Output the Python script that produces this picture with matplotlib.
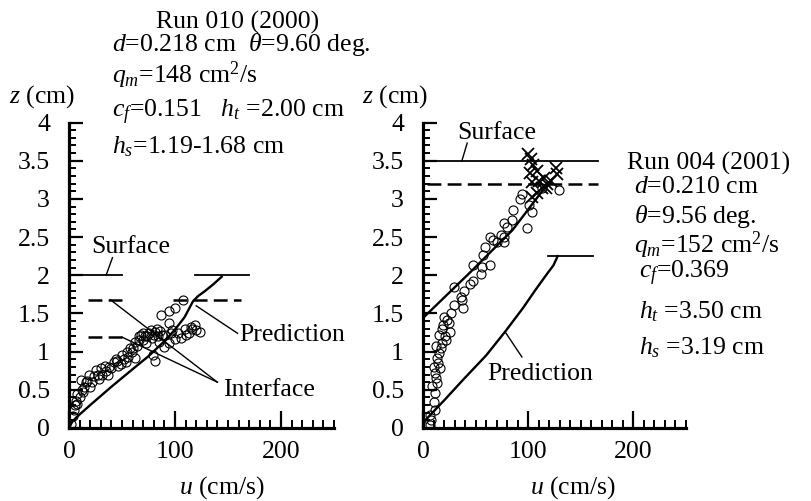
import matplotlib
matplotlib.use("Agg")
import matplotlib.pyplot as plt
import numpy as np

plt.rcParams['font.family'] = ['Liberation Serif', 'DejaVu Serif']
plt.rcParams['mathtext.fontset'] = 'custom'
plt.rcParams['mathtext.rm'] = 'Liberation Serif'
plt.rcParams['mathtext.it'] = 'Liberation Serif:italic'
plt.rcParams['lines.scale_dashes'] = False
FS = 18.5

# ---------------- data: Run 010 (2000) ----------------
left_u = [87, 100, 94, 94, 108, 119, 124, 113, 106, 100, 94, 90, 81,
          68, 75, 66, 73, 59, 62, 78, 81,
          49, 42, 34, 31, 25, 19, 11, 14, 20, 10, 8, 5, 4, 13, 37, 28, 46, 54,
          55, 60, 64, 70, 72, 84, 86, 88, 96, 110, 116, 2, 6, 8, 16, 22, 24,
          30, 38, 44, 50, 52, 56, 85, 79,
          58, 62, 66, 70, 74, 77, 80, 83, 91, 97, 103, 109, 115, 120,
          35, 40, 45, 27, 17, 12, 7]
left_z = [1.48, 1.57, 1.53, 1.37, 1.68, 1.35, 1.26, 1.25, 1.18, 1.16, 1.11, 1.06, 0.88,
          1.22, 1.24, 1.15, 1.11, 0.99, 0.92, 1.18, 1.26,
          0.84, 0.86, 0.81, 0.70, 0.76, 0.69, 0.63, 0.54, 0.54, 0.40, 0.31, 0.23, 0.16, 0.47, 0.70, 0.64, 0.81, 0.86,
          1.00, 1.05, 1.08, 1.15, 1.20, 1.20, 1.27, 1.22, 1.24, 1.22, 1.30, 0.05, 0.30, 0.45, 0.60, 0.60, 0.68,
          0.78, 0.80, 0.90, 0.95, 0.90, 0.93, 1.12, 0.95,
          1.05, 1.12, 1.20, 1.25, 1.20, 1.28, 1.22, 1.30, 1.22, 1.28, 1.25, 1.30, 1.32, 1.28,
          0.75, 0.78, 0.88, 0.70, 0.62, 0.50, 0.35]
left_pred_u = [0, 3, 7, 20, 40, 60, 75, 91, 100, 109, 117, 122, 128, 136, 144]
left_pred_z = [0.0, 0.08, 0.14, 0.30, 0.54, 0.77, 0.94, 1.15, 1.29, 1.45, 1.66, 1.73, 1.79, 1.88, 1.98]
left_surface = 2.00
left_interfaces = [1.68, 1.19]

# ---------------- data: Run 004 (2001) ----------------
right_u = [13, 11, 14, 15, 18, 21, 26, 18, 23, 27, 11, 10, 7, 11, 7, 15, 19,
           29, 37, 39, 36, 45, 48, 55, 56, 64, 48, 57, 70, 77, 77, 38, 29,
           59, 67, 74, 80, 85, 86, 94, 92, 99, 104, 101, 129, 113, 77, 64,
           8, 9, 12, 16, 13, 17, 22, 12, 20, 25, 10]
right_z = [0.59, 0.72, 0.85, 0.98, 1.11, 1.21, 1.26, 1.30, 1.41, 1.50, 0.46, 0.34, 0.17, 0.24, 0.04, 1.22, 1.35,
           1.61, 1.68, 1.79, 1.72, 1.88, 1.93, 2.02, 2.11, 2.13, 2.14, 2.27, 2.43, 2.50, 2.43, 1.57, 1.84,
           2.37, 2.46, 2.53, 2.63, 2.72, 2.86, 3.07, 3.00, 2.62, 2.83, 2.92, 3.11, 3.14, 2.69, 2.50,
           0.10, 0.55, 0.65, 0.78, 0.92, 1.05, 1.15, 1.08, 1.45, 1.38, 0.80]
right_x_u = [100, 103, 105, 102, 108, 104, 110, 126, 127, 122, 118, 113, 108, 115, 104, 117]
right_x_z = [3.59, 3.52, 3.45, 3.34, 3.36, 3.22, 3.24, 3.41, 3.32, 3.24, 3.19, 3.14, 3.08, 3.27, 3.02, 3.14]
right_fit_u = [0, 45, 85, 117]
right_fit_z = [1.44, 2.04, 2.59, 3.17]
right_pred_u = [0, 2, 20, 38, 60, 78, 95, 107, 118, 124, 128]
right_pred_z = [0.0, 0.10, 0.36, 0.63, 0.95, 1.26, 1.57, 1.81, 2.02, 2.13, 2.25]
right_surface = 3.50
right_interface = 3.19

y_ticks = [0, 0.5, 1, 1.5, 2, 2.5, 3, 3.5, 4]
y_ticklabels = ['0', '0.5', '1', '1.5', '2', '2.5', '3', '3.5', '4']
x_ticks = [0, 100, 200]
x_ticklabels = ['0', '100', '200']

W, H = 811, 501
fig = plt.figure(figsize=(W / 100, H / 100), dpi=100)


def px(x, y):
    return x / W, 1 - y / H


def style_axes(ax, wpx, hpx):
    ax.set_xlim(0, 250)
    ax.set_ylim(0, 4)
    for s in ['top', 'right']:
        ax.spines[s].set_visible(False)
    for s in ['left', 'bottom']:
        ax.spines[s].set_linewidth(2.3)
        ax.spines[s].set_capstyle('projecting')
    ax.set_yticks(y_ticks)
    ax.set_yticklabels(y_ticklabels)
    ax.set_xticks(x_ticks)
    ax.set_xticklabels(x_ticklabels)
    ax.tick_params(axis='both', which='both', length=0, labelsize=FS)
    ax.tick_params(axis='y', pad=13.7)
    ax.tick_params(axis='x', pad=9.5)
    ax.set_facecolor('none')
    # inward tick marks drawn with blended axis transforms
    xt = ax.get_xaxis_transform()
    yt = ax.get_yaxis_transform()
    minor_x = np.arange(0, 251, 10)
    minor_y = np.arange(0, 4.01, 0.1)
    ax.vlines(minor_x, 0, 8 / hpx, transform=xt, color='black', lw=1.4, clip_on=False)
    ax.vlines(x_ticks, 0, 17 / hpx, transform=xt, color='black', lw=1.6, clip_on=False)
    ax.hlines(minor_y, 0, 7 / wpx, transform=yt, color='black', lw=1.4, clip_on=False)
    ax.hlines(y_ticks, 0, 14 / wpx, transform=yt, color='black', lw=1.6, clip_on=False)


DASH = (0, (10, 4.5))
ln = dict(color='black', lw=1.3)

# ---------------- left panel ----------------
axL = fig.add_axes([69 / W, 73 / H, 265 / W, 305.5 / H])
style_axes(axL, 265, 305.5)
axL.plot(left_u, left_z, 'o', mfc='none', mec='black', ms=6.5, mew=0.8)
axL.plot(left_pred_u, left_pred_z, color='black', lw=1.7)
axL.plot([0, 50], [left_surface] * 2, **ln)
axL.plot([119, 170], [left_surface] * 2, **ln)
axL.plot([18, 50], [left_interfaces[0]] * 2, color='black', lw=1.8, linestyle=DASH)
axL.plot([98, 162], [left_interfaces[0]] * 2, color='black', lw=1.8, linestyle=DASH)
axL.plot([18, 50], [left_interfaces[1]] * 2, color='black', lw=1.8, linestyle=DASH)
# annotations
axL.text(58, 2.37, 'Surface', fontsize=FS, ha='center', va='center')
axL.plot([41, 35], [2.23, 2.0], color='black', lw=1.0)
axL.text(161, 1.22, 'Prediction', fontsize=FS, ha='left', va='center')
axL.plot([159, 120], [1.24, 1.6], color='black', lw=1.0)
axL.text(145, 0.50, 'Interface', fontsize=FS, ha='left', va='center')
axL.plot([39, 140], [1.68, 0.60], color='black', lw=1.0)
axL.plot([50, 140], [1.19, 0.60], color='black', lw=1.0)

# ---------------- right panel ----------------
axR = fig.add_axes([423 / W, 73 / H, 263 / W, 305.5 / H])
style_axes(axR, 263, 305.5)
axR.plot(right_u, right_z, 'o', mfc='none', mec='black', ms=6.5, mew=0.8)
axR.plot(right_x_u, right_x_z, 'x', color='black', ms=9, mew=1.3)
axR.plot(right_fit_u, right_fit_z, color='black', lw=1.7)
axR.plot(right_pred_u, right_pred_z, color='black', lw=1.7)
axR.plot([119, 162], [right_pred_z[-1]] * 2, **ln)
axR.plot([0, 166], [right_surface] * 2, **ln)
axR.plot([4, 166], [right_interface] * 2, color='black', lw=1.8, linestyle=DASH)
axR.text(70.5, 3.86, 'Surface', fontsize=FS, ha='center', va='center')
axR.plot([42, 37], [3.73, 3.5], color='black', lw=1.0)
axR.text(111, 0.71, 'Prediction', fontsize=FS, ha='center', va='center')
axR.plot([94, 78], [0.93, 1.26], color='black', lw=1.0)

# ---------------- axis labels ----------------
fig.text(*px(42, 97), '$z$ (cm)', fontsize=FS, ha='center', va='center')
fig.text(*px(395, 97), '$z$ (cm)', fontsize=FS, ha='center', va='center')
fig.text(*px(222, 488), '$u$ (cm/s)', fontsize=FS, ha='center', va='center')
fig.text(*px(573, 488), '$u$ (cm/s)', fontsize=FS, ha='center', va='center')

# ---------------- parameter texts ----------------
fig.text(*px(238, 22), 'Run 010 (2000)', fontsize=FS, ha='center', va='center')
fig.text(*px(112, 45), r'$d$=0.218 cm  $\theta$=9.60 deg.', fontsize=FS, ha='left', va='center')
fig.text(*px(112, 75), r'$q_m$=148 cm$^2$/s', fontsize=FS, ha='left', va='center')
fig.text(*px(112, 112), r'$c_f$=0.151   $h_t$ =2.00 cm', fontsize=FS, ha='left', va='center')
fig.text(*px(112, 147), r'$h_s$=1.19-1.68 cm', fontsize=FS, ha='left', va='center')

fig.text(*px(627, 163), 'Run 004 (2001)', fontsize=FS, ha='left', va='center')
fig.text(*px(634, 187), r'$d$=0.210 cm', fontsize=FS, ha='left', va='center')
fig.text(*px(634, 217), r'$\theta$=9.56 deg.', fontsize=FS, ha='left', va='center')
fig.text(*px(634, 245), r'$q_m$=152 cm$^2$/s', fontsize=FS, ha='left', va='center')
fig.text(*px(639, 273), r'$c_f$=0.369', fontsize=FS, ha='left', va='center')
fig.text(*px(639, 312), r'$h_t$ =3.50 cm', fontsize=FS, ha='left', va='center')
fig.text(*px(639, 348), r'$h_s$ =3.19 cm', fontsize=FS, ha='left', va='center')

fig.savefig('out.png', dpi=100)
